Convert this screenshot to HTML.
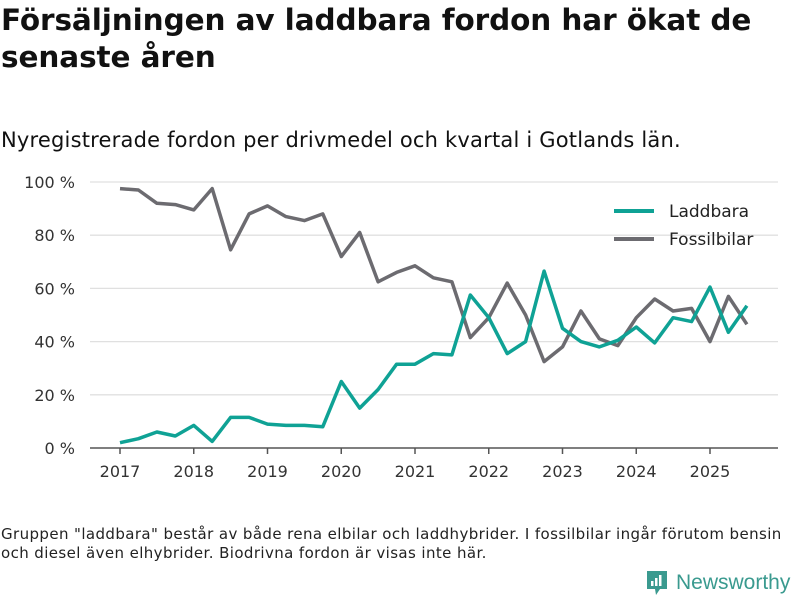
<!DOCTYPE html>
<html><head><meta charset="utf-8"><style>
body{margin:0;width:800px;height:600px;background:#fff;font-family:"DejaVu Sans","Liberation Sans",sans-serif;color:#111;overflow:hidden;position:relative}
h1{position:absolute;left:1px;top:2px;margin:0;font-size:29.5px;line-height:37px;font-weight:bold;letter-spacing:-0.1px}
.sub{position:absolute;left:1px;top:128px;font-size:21px;letter-spacing:0.2px}
.foot{position:absolute;left:1px;top:525px;font-size:15px;line-height:19px;color:#222;letter-spacing:0.4px;white-space:nowrap}
</style></head><body>
<h1>Försäljningen av laddbara fordon har ökat de<br>senaste åren</h1>
<div class="sub">Nyregistrerade fordon per drivmedel och kvartal i Gotlands län.</div>
<svg id="chart" width="800" height="600" style="position:absolute;left:0;top:0"></svg>
<div class="foot">Gruppen "laddbara" består av både rena elbilar och laddhybrider. I fossilbilar ingår förutom bensin<br>och diesel även elhybrider. Biodrivna fordon är visas inte här.</div>
<div style="position:absolute;left:645px;top:570px;height:26px;display:flex;align-items:center">
<svg width="24" height="28" viewBox="0 0 24 28"><path d="M2 2h20v18h-7l-4 6-1-6H2z" fill="#3a9a8f"/><rect x="6" y="12" width="2.5" height="5" fill="#fff"/><rect x="10" y="9" width="2.5" height="8" fill="#fff"/><rect x="14" y="6" width="2.5" height="11" fill="#fff"/></svg>
<span style="font-size:21px;color:#3a9a8f;margin-left:7px;font-family:'Liberation Sans',sans-serif">Newsworthy</span></div>
<script>
const years=[2017,2018,2019,2020,2021,2022,2023,2024,2025];
const yTicks=[0,20,40,60,80,100];
const laddbara=[2,3.5,6,4.5,8.5,2.5,11.5,11.5,9,8.5,8.5,8,25,15,22,31.5,31.5,35.5,35,57.5,49,35.5,40,66.5,45,40,38,40.5,45.5,39.5,49,47.5,60.5,43.5,53.5];
const fossil=[97.5,97,92,91.5,89.5,97.5,74.5,88,91,87,85.5,88,72,81,62.5,66,68.5,64,62.5,41.5,49,62,50,32.5,38,51.5,41,38.5,49,56,51.5,52.5,40,57,46.5];
const NS='http://www.w3.org/2000/svg',svg=document.getElementById('chart');
const x=t=>120+(t-2017)*73.75, y=v=>448-v*2.66;
function el(tag,a,txt){const e=document.createElementNS(NS,tag);for(const k in a)e.setAttribute(k,a[k]);if(txt!=null)e.textContent=txt;svg.appendChild(e);return e;}
yTicks.forEach(v=>{
 if(v>0){const g=el('line',{x1:90,x2:778,y1:y(v),y2:y(v),stroke:'#e0e0e0','stroke-width':1.3});
 
 }
 const t=el('text',{x:75,y:y(v)+6,'text-anchor':'end','font-size':16,fill:'#333','font-family':'DejaVu Sans,sans-serif'},v+' %');
 
 
});
const ax=el('line',{x1:90,x2:778,y1:448,y2:448,stroke:'#555','stroke-width':1.5});


years.forEach(yr=>{
 const tk=el('line',{x1:x(yr),x2:x(yr),y1:448,y2:454,stroke:'#555','stroke-width':1.5});
 
 
 const t=el('text',{x:x(yr),y:477,'text-anchor':'middle','font-size':16,fill:'#333','font-family':'DejaVu Sans,sans-serif'},yr);
 
 
});
function line(d,c,n){const p=d.map((v,i)=>x(2017+i/4).toFixed(1)+','+y(v).toFixed(1)).join(' ');
 const l=el('polyline',{points:p,fill:'none',stroke:c,'stroke-width':3.5,'stroke-linejoin':'round'});
 
 }
line(fossil,'#6c6b70','fossil-line');
line(laddbara,'#0fa295','laddbara-line');
[['Laddbara','#0fa295',211],['Fossilbilar','#6c6b70',239]].forEach(([n,c,yy])=>{
 const l=el('line',{x1:614,x2:654,y1:yy,y2:yy,stroke:c,'stroke-width':4});
 
 
 const t=el('text',{x:669,y:yy+6,'font-size':17,fill:'#222','font-family':'DejaVu Sans,sans-serif'},n);
 
 
});
</script>
</body></html>
